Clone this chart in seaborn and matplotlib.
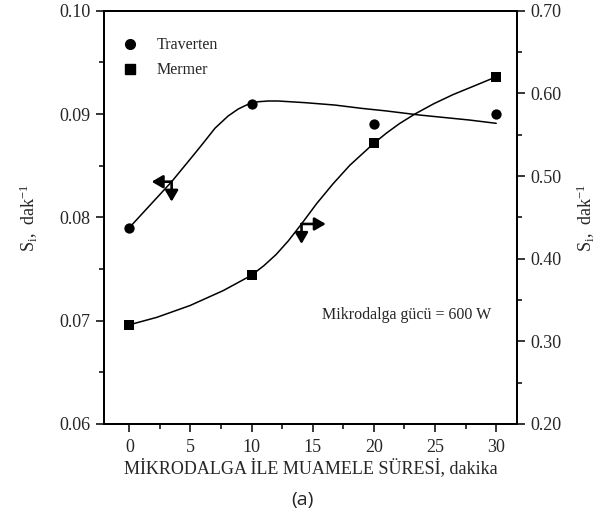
import matplotlib
matplotlib.use("Agg")
import matplotlib.pyplot as plt
import seaborn as sns
import numpy as np
import pandas as pd
from matplotlib.lines import Line2D
from matplotlib.ticker import MultipleLocator, FormatStrFormatter

# ---- data ----
time_min = [0, 10, 20, 30]
traverten = [0.079, 0.091, 0.089, 0.090]      # left axis
mermer = [0.32, 0.38, 0.54, 0.62]             # right axis

# fitted curves as drawn in the reference
trav_fit_x = [0, 3.46, 5.37, 6.18, 7.0, 8.08, 8.90, 9.45, 9.94, 10.54, 11.36, 12.17,
              14.36, 16.8, 18.98, 21.0, 23.75, 27.8, 30.0]
trav_fit_y = [0.0790, 0.08345, 0.0862, 0.08739, 0.08862, 0.08981, 0.09048, 0.0908, 0.09104,
              0.09119, 0.09126, 0.09126, 0.0911, 0.09087, 0.09055, 0.0903, 0.0899, 0.08942, 0.0891]
merm_fit_x = [0, 2.24, 4.96, 7.68, 10.0, 11.0, 12.0, 13.0, 14.08, 15.31, 16.67, 18.03,
              19.95, 21.03, 22.1, 23.35, 24.9, 26.47, 28.2, 30.0]
merm_fit_y = [0.320, 0.329, 0.3433, 0.3614, 0.380, 0.3915, 0.405, 0.4215, 0.442, 0.4665,
              0.4908, 0.513, 0.539, 0.552, 0.5635, 0.575, 0.5875, 0.5985, 0.609, 0.620]

labels = ["Traverten", "Mermer"]
xlabel = "MİKRODALGA İLE MUAMELE SÜRESİ, dakika"
ylabel = r"S$_\mathregular{i}$,  dak$^\mathregular{-1}$"
note = "Mikrodalga gücü = 600 W"

sns.set_style("ticks")
plt.rcParams["font.family"] = ["Liberation Serif", "DejaVu Serif"]
plt.rcParams["mathtext.fontset"] = "custom"
plt.rcParams["mathtext.rm"] = "Liberation Serif"
plt.rcParams["mathtext.it"] = "Liberation Serif:italic"

fig = plt.figure(figsize=(6.05, 5.21), dpi=100)
ax = fig.add_axes([104 / 605, 1 - 424 / 521, 413 / 605, 413.3 / 521])
ax2 = ax.twinx()

df_pts = pd.DataFrame({"t": time_min, "trav": traverten, "merm": mermer})
df_tf = pd.DataFrame({"x": trav_fit_x, "y": trav_fit_y})
df_mf = pd.DataFrame({"x": merm_fit_x, "y": merm_fit_y})

sns.lineplot(data=df_tf, x="x", y="y", ax=ax, color="black", lw=1.1, sort=False)
sns.lineplot(data=df_mf, x="x", y="y", ax=ax2, color="black", lw=1.1, sort=False)
sns.scatterplot(data=df_pts, x="t", y="trav", ax=ax, color="black", marker="o", s=55,
                edgecolor="black", linewidth=0, zorder=5)
sns.scatterplot(data=df_pts, x="t", y="merm", ax=ax2, color="black", marker="s", s=58,
                edgecolor="black", linewidth=0, zorder=5)

ax.set_xlim(-2.07, 31.7)
ax.set_ylim(0.06, 0.10)
ax2.set_ylim(0.20, 0.70)

ax.xaxis.set_major_locator(MultipleLocator(5))
ax.xaxis.set_minor_locator(MultipleLocator(2.5))
ax.yaxis.set_major_locator(MultipleLocator(0.01))
ax.yaxis.set_minor_locator(MultipleLocator(0.005))
ax.yaxis.set_major_formatter(FormatStrFormatter("%.2f"))
ax2.yaxis.set_major_locator(MultipleLocator(0.1))
ax2.yaxis.set_minor_locator(MultipleLocator(0.05))
ax2.yaxis.set_major_formatter(FormatStrFormatter("%.2f"))

for a in (ax, ax2):
    a.tick_params(which="major", length=5.5, width=1.1, labelsize=13, pad=4, color="black")
    a.tick_params(which="minor", length=3.6, width=1.1, color="black")
    for s in a.spines.values():
        s.set_linewidth(1.4)
        s.set_color("black")
ax.tick_params(axis="x", which="major", length=6, pad=5)

ax.set_xlabel(xlabel, fontsize=13, labelpad=1.5)
ax.set_ylabel(ylabel, fontsize=13)
ax2.set_ylabel(ylabel, fontsize=13)
ax.yaxis.set_label_coords(-0.155, 0.5)
ax2.yaxis.set_label_coords(1.14, 0.5)
ax2.yaxis.label.set_rotation(90)

# direction arrows
def lshape(axis, corner, dx_pt, dy_pt):
    style = "<|-,head_length=0.55,head_width=0.32"
    for off in ((dx_pt, 0), (0, dy_pt)):
        axis.annotate("", xy=corner, xycoords="data", xytext=off, textcoords="offset points",
                      arrowprops=dict(arrowstyle=style, lw=1.9, color="black",
                                      mutation_scale=12, shrinkA=0, shrinkB=0))

lshape(ax, (3.46, 0.08345), -14.4, -14.4)
lshape(ax2, (14.08, 0.442), 17.5, -14.4)

ax.text(0.527, 0.2637, note, transform=ax.transAxes, fontsize=11.5, va="center", ha="left")

handles = [Line2D([], [], marker="o", ls="", color="black", markersize=7),
           Line2D([], [], marker="s", ls="", color="black", markersize=6.5)]
ax2.legend(handles, labels, loc="upper left", frameon=False, fontsize=11.5,
           bbox_to_anchor=(0.01, 0.97), handlelength=1.0, handletextpad=1.15, labelspacing=0.55)

fig.text(302 / 605, 1 - 500 / 521, "(a)", ha="center", va="center", fontsize=14,
         family=["Open Sans", "DejaVu Sans"])

fig.savefig("out.png", dpi=100)
